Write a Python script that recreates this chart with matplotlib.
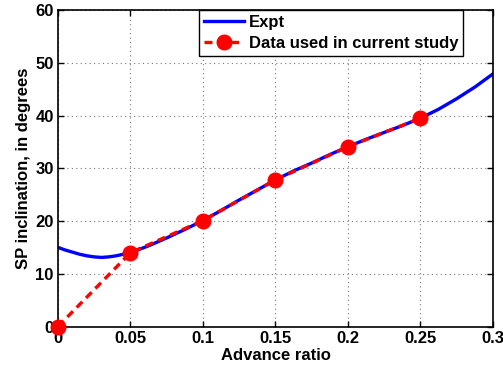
import matplotlib
matplotlib.use('Agg')
import matplotlib.pyplot as plt

expt_x = [0.0, 0.005, 0.01, 0.015, 0.02, 0.025, 0.03, 0.035, 0.04, 0.045, 0.05,
          0.0625, 0.075, 0.0875, 0.1, 0.1125, 0.125, 0.1375, 0.15, 0.1625,
          0.175, 0.1875, 0.2, 0.2125, 0.225, 0.2375, 0.25, 0.2625, 0.275,
          0.2875, 0.3]
expt_y = [15.0, 14.5, 14.1, 13.7, 13.4, 13.2, 13.1, 13.2, 13.4, 13.7, 14.0,
          15.3, 16.8, 18.4, 20.1, 22.0, 24.0, 25.9, 27.8, 29.5,
          31.0, 32.6, 34.1, 35.5, 36.8, 38.1, 39.5, 41.2, 43.2,
          45.4, 47.9]

# points used in the current study
study_x = [0.0, 0.05, 0.1, 0.15, 0.2, 0.25]
study_y = [0.0, 14.0, 20.1, 27.8, 34.1, 39.5]

xticks = [0, 0.05, 0.1, 0.15, 0.2, 0.25, 0.3]
xticklabels = ['0', '0.05', '0.1', '0.15', '0.2', '0.25', '0.3']
yticks = [0, 10, 20, 30, 40, 50, 60]

plt.rcParams['font.family'] = ['Liberation Sans', 'DejaVu Sans']
plt.rcParams['font.weight'] = 'bold'

fig = plt.figure(figsize=(5.03, 3.74), dpi=100)
ax = fig.add_axes([0.1153, 0.127, 0.8647, 0.846])

ax.plot(expt_x, expt_y, color='#0000ff', linewidth=2.4, label='Expt')
ax.plot(study_x, study_y, color='#ff0000', linestyle='--', linewidth=2.4,
        dashes=(2.4, 1.6), marker='o', markersize=10.5,
        label='Data used in current study', clip_on=False, zorder=3)

ax.set_xlim(0, 0.3)
ax.set_ylim(0, 60)
ax.set_xticks(xticks)
ax.set_xticklabels(xticklabels)
ax.set_yticks(yticks)
ax.tick_params(direction='in', top=True, right=True, labelsize=12, width=1, length=4, pad=3)
ax.grid(True, linestyle=(0, (1, 3)), color='#777777', linewidth=0.8)
for s in ax.spines.values():
    s.set_linewidth(1.2)

ax.set_xlabel('Advance ratio', fontsize=12, fontweight='bold', labelpad=2)
ax.set_ylabel('SP inclination, in degrees', fontsize=12, fontweight='bold', labelpad=3)

leg = ax.legend(loc='upper center', bbox_to_anchor=(0.628, 1.0), fontsize=12,
                frameon=True, fancybox=False, edgecolor='black', framealpha=1,
                borderpad=0.3, handlelength=2.4, handletextpad=0.3, labelspacing=0.35,
                borderaxespad=0)
leg.get_frame().set_linewidth(1.0)

fig.savefig('out.png', dpi=100)
